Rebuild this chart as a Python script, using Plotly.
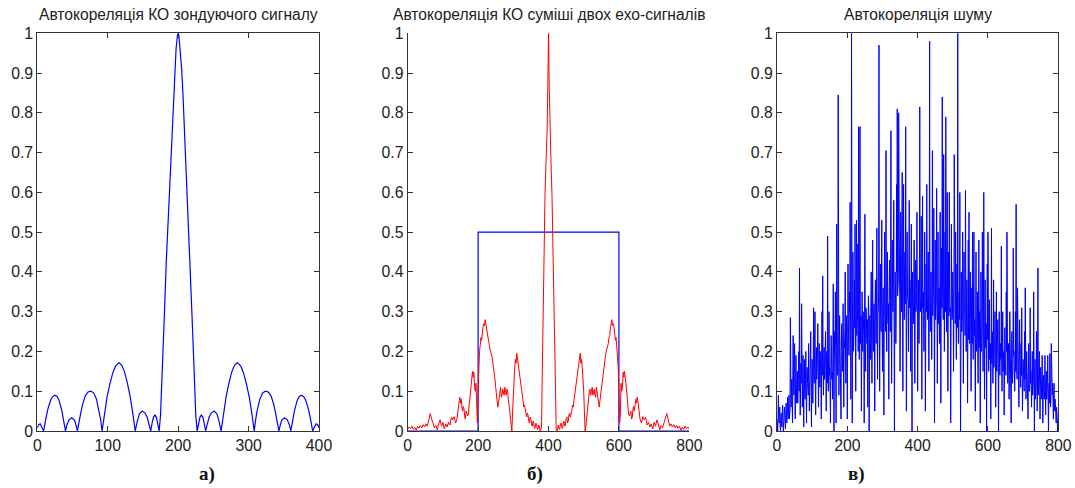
import plotly.graph_objects as go

# ---- panel а: autocorrelation of the probe signal (lags 0..400) ----
probe_lag = [0, 2, 4, 6, 9, 12, 15, 19, 22, 25, 28, 31, 35, 38, 40, 42, 45, 49, 53, 55, 57,
             60, 64, 68, 72, 76, 80, 84, 88, 90, 92, 95, 99, 103, 107, 111, 116, 120, 124, 128,
             132, 136, 139, 142, 145, 149, 153, 156, 159, 161, 163, 165, 167, 169, 171, 173,
             175, 177, 179, 181, 183, 185, 187, 189, 191, 193, 195, 197, 199, 200,
             201, 203, 205, 207, 209, 211, 213, 215, 217, 219, 221, 223, 225, 227,
             229, 231, 233, 235, 237, 239, 241, 244, 247, 251, 255, 258, 261,
             264, 268, 272, 276, 280, 284, 289, 293, 297, 301, 305, 308,
             310, 312, 316, 320, 324, 328, 332, 336, 340, 343, 345, 347, 351, 355, 358, 360,
             362, 365, 369, 372, 375, 378, 381, 385, 388, 391, 394, 396, 398, 400]
probe_acf = [0.008, 0.016, 0.018, 0.012, 0.0, 0.03, 0.055, 0.078, 0.087, 0.09, 0.087, 0.077,
             0.05, 0.02, 0.0, 0.015, 0.028, 0.033, 0.027, 0.015, 0.0,
             0.03, 0.065, 0.088, 0.098, 0.1, 0.096, 0.08, 0.05, 0.028, 0.0,
             0.04, 0.085, 0.118, 0.145, 0.163, 0.172, 0.165, 0.148, 0.12, 0.085, 0.04, 0.0,
             0.025, 0.043, 0.05, 0.045, 0.035, 0.015, 0.0, 0.02, 0.035, 0.04, 0.035, 0.018, 0.0,
             0.04, 0.12, 0.23, 0.32, 0.42, 0.5, 0.59, 0.66, 0.76, 0.84, 0.91, 0.96, 0.995, 1.0,
             0.995, 0.96, 0.91, 0.84, 0.76, 0.66, 0.59, 0.5, 0.42, 0.32, 0.23, 0.12, 0.04, 0.0,
             0.018, 0.035, 0.04, 0.035, 0.02, 0.0, 0.015, 0.035, 0.045, 0.05, 0.043, 0.025, 0.0,
             0.04, 0.085, 0.12, 0.148, 0.165, 0.172, 0.163, 0.145, 0.118, 0.085, 0.04, 0.0,
             0.028, 0.05, 0.08, 0.096, 0.1, 0.098, 0.088, 0.065, 0.03, 0.0,
             0.015, 0.027, 0.033, 0.028, 0.015, 0.0,
             0.02, 0.05, 0.077, 0.087, 0.09, 0.087, 0.078, 0.055, 0.03, 0.0,
             0.012, 0.018, 0.016, 0.008]

# ---- panel б: autocorrelation of the two-echo mixture (lags 0..800) ----
mix_lag = (list(range(0, 140, 4)) + list(range(140, 382, 2))
           + [382, 384, 387, 390, 393, 396, 398, 400, 402, 404, 407, 410, 413, 416, 418]
           + list(range(420, 662, 2)) + list(range(664, 801, 4)))
mix_acf = [
    # lags 0..136, step 4
    0.005, 0.01, 0.006, 0.012, 0.004, 0.009, 0.002, 0.012, 0.007, 0.014,
    0.008, 0.016, 0.01, 0.018, 0.012, 0.03, 0.044, 0.03, 0.02, 0.008,
    0.014, 0.003, 0.018, 0.028, 0.012, 0.022, 0.005, 0.018, 0.01, 0.022,
    0.015, 0.035, 0.028, 0.036, 0.02,
    # lags 140..380, step 2
    0.03, 0.045, 0.06, 0.075, 0.085, 0.07, 0.08, 0.06, 0.05, 0.062,
    0.055, 0.035, 0.03, 0.05, 0.045, 0.038, 0.04, 0.06, 0.07, 0.1,
    0.12, 0.14, 0.15, 0.135, 0.148, 0.11, 0.1, 0.12, 0.04, 0.02,
    0.1, 0.16, 0.2, 0.215, 0.235, 0.228, 0.25, 0.262, 0.27, 0.265,
    0.28, 0.268, 0.26, 0.24, 0.235, 0.22, 0.215, 0.205, 0.2, 0.19,
    0.185, 0.17, 0.16, 0.142, 0.13, 0.11, 0.09, 0.075, 0.06, 0.072,
    0.085, 0.1, 0.11, 0.085, 0.09, 0.105, 0.1, 0.09, 0.11, 0.1,
    0.09, 0.105, 0.1, 0.08, 0.07, 0.05, 0.03, 0.01, 0.0, 0.05,
    0.1, 0.14, 0.16, 0.18, 0.17, 0.195, 0.18, 0.175, 0.16, 0.15,
    0.13, 0.12, 0.1, 0.09, 0.075, 0.06, 0.065, 0.05, 0.04, 0.035,
    0.045, 0.04, 0.025, 0.02, 0.035, 0.03, 0.015, 0.012, 0.025, 0.02,
    0.006, 0.008, 0.02, 0.018, 0.004, 0.005, 0.015, 0.012, 0.0, 0.003,
    0.01,
    # main lobe 382..418
    0.15, 0.3, 0.43, 0.59, 0.68, 0.75, 0.87, 1.0, 0.87, 0.75, 0.68, 0.59, 0.43, 0.3, 0.15,
    # lags 420..660, step 2
    0.01, 0.003, 0.0, 0.012, 0.015, 0.005, 0.004, 0.018, 0.02, 0.008,
    0.006, 0.02, 0.025, 0.012, 0.015, 0.03, 0.035, 0.02, 0.025, 0.04,
    0.045, 0.035, 0.04, 0.05, 0.065, 0.06, 0.075, 0.09, 0.1, 0.12,
    0.13, 0.15, 0.16, 0.175, 0.18, 0.195, 0.17, 0.18, 0.16, 0.14,
    0.1, 0.05, 0.0, 0.01, 0.03, 0.05, 0.07, 0.08, 0.1, 0.105,
    0.09, 0.1, 0.11, 0.09, 0.1, 0.105, 0.09, 0.085, 0.11, 0.1,
    0.085, 0.072, 0.06, 0.075, 0.09, 0.11, 0.13, 0.142, 0.16, 0.17,
    0.185, 0.19, 0.2, 0.205, 0.215, 0.22, 0.235, 0.24, 0.26, 0.268,
    0.28, 0.265, 0.27, 0.262, 0.25, 0.228, 0.235, 0.215, 0.2, 0.16,
    0.1, 0.02, 0.04, 0.12, 0.1, 0.11, 0.148, 0.135, 0.15, 0.14,
    0.12, 0.1, 0.07, 0.06, 0.04, 0.038, 0.045, 0.05, 0.03, 0.035,
    0.055, 0.062, 0.05, 0.06, 0.08, 0.07, 0.085, 0.075, 0.06, 0.045,
    0.03,
    # lags 664..800, step 4
    0.02, 0.036, 0.028, 0.035, 0.015, 0.022, 0.01, 0.018, 0.005, 0.022,
    0.012, 0.028, 0.018, 0.003, 0.014, 0.008, 0.02, 0.03, 0.044, 0.03,
    0.012, 0.018, 0.01, 0.016, 0.008, 0.014, 0.007, 0.012, 0.002, 0.009,
    0.004, 0.012, 0.006, 0.01, 0.005,
]

# gating window drawn over the mixture correlation
gate_lag = [0, 200, 200, 600, 600, 800]
gate_level = [0, 0, 0.5, 0.5, 0, 0]

# ---- panel в: autocorrelation of noise (lags 0..800, one value per lag) ----
noise_lag = list(range(0, 801))
noise_acf = [
    0.03, 0.02, 0.0, 0.04, 0.09, 0.03, 0.02, 0.05, 0.06, 0.01, 0.0, 0.03, 0.045, 0.02, 0.01, 0.04, 0.065, 0.03, 0.0, 0.02,
    0.03, 0.06, 0.05, 0.02, 0.005, 0.04, 0.07, 0.03, 0.02, 0.05, 0.085, 0.04, 0.03, 0.06, 0.09, 0.03, 0.04, 0.05, 0.285, 0.12,
    0.06, 0.1, 0.13, 0.08, 0.02, 0.14, 0.24, 0.12, 0.09, 0.16, 0.22, 0.09, 0.03, 0.13, 0.19, 0.11, 0.07, 0.12, 0.15, 0.07,
    0.1, 0.15, 0.2, 0.1, 0.41, 0.13, 0.04, 0.09, 0.17, 0.12, 0.32, 0.14, 0.06, 0.1, 0.19, 0.08, 0.01, 0.12, 0.18, 0.09,
    0.08, 0.13, 0.2, 0.1, 0.02, 0.15, 0.16, 0.12, 0.11, 0.09, 0.22, 0.14, 0.05, 0.11, 0.14, 0.17, 0.25, 0.1, 0.01, 0.13,
    0.18, 0.12, 0.07, 0.16, 0.31, 0.14, 0.12, 0.18, 0.3, 0.11, 0.04, 0.15, 0.21, 0.13, 0.15, 0.19, 0.27, 0.12, 0.06, 0.16,
    0.22, 0.15, 0.11, 0.2, 0.18, 0.12, 0.03, 0.17, 0.3, 0.14, 0.39, 0.19, 0.09, 0.16, 0.21, 0.13, 0.14, 0.2, 0.25, 0.15,
    0.05, 0.18, 0.2, 0.12, 0.49, 0.17, 0.1, 0.21, 0.3, 0.14, 0.16, 0.1, 0.02, 0.16, 0.24, 0.19, 0.13, 0.15, 0.08, 0.2,
    0.37, 0.18, 0.0, 0.15, 0.25, 0.22, 0.35, 0.12, 0.02, 0.2, 0.52, 0.25, 0.14, 0.17, 0.845, 0.21, 0.09, 0.16, 0.29, 0.23,
    0.18, 0.14, 0.03, 0.2, 0.27, 0.24, 0.15, 0.19, 0.32, 0.15, 0.06, 0.22, 0.21, 0.26, 0.4, 0.18, 0.12, 0.23, 0.29, 0.2,
    0.03, 0.24, 0.42, 0.28, 0.2, 0.19, 0.35, 0.3, 0.575, 0.22, 0.08, 0.27, 1.0, 0.25, 0.02, 0.32, 0.45, 0.2, 0.22, 0.29,
    0.38, 0.26, 0.52, 0.21, 0.1, 0.3, 0.53, 0.24, 0.3, 0.28, 0.47, 0.2, 0.765, 0.31, 0.18, 0.26, 0.765, 0.22, 0.25, 0.29,
    0.05, 0.26, 0.35, 0.22, 0.2, 0.3, 0.28, 0.24, 0.02, 0.27, 0.545, 0.2, 0.15, 0.31, 0.3, 0.25, 0.22, 0.28, 0.06, 0.23,
    0.34, 0.3, 0.0, 0.26, 0.29, 0.22, 0.18, 0.32, 0.4, 0.25, 0.12, 0.29, 0.48, 0.24, 0.2, 0.3, 0.32, 0.27, 0.05, 0.33,
    0.38, 0.28, 0.22, 0.32, 0.51, 0.25, 0.13, 0.3, 0.3, 0.35, 0.97, 0.27, 0.1, 0.33, 0.42, 0.29, 0.25, 0.36, 0.53, 0.26,
    0.15, 0.31, 0.36, 0.28, 0.04, 0.34, 0.5, 0.3, 0.68, 0.25, 0.705, 0.33, 0.2, 0.37, 0.45, 0.29, 0.27, 0.32, 0.08, 0.35,
    0.43, 0.3, 0.25, 0.36, 0.755, 0.28, 0.12, 0.34, 0.48, 0.31, 0.3, 0.38, 0.58, 0.27, 0.0, 0.33, 0.4, 0.36, 0.22, 0.3,
    0.62, 0.4, 0.81, 0.34, 0.35, 0.38, 0.8, 0.42, 0.64, 0.32, 0.15, 0.37, 0.55, 0.35, 0.3, 0.4, 0.65, 0.33, 0.1, 0.38,
    0.62, 0.35, 0.28, 0.4, 0.45, 0.32, 0.765, 0.37, 0.05, 0.3, 0.5, 0.36, 0.33, 0.33, 0.2, 0.39, 0.58, 0.31, 0.38, 0.35,
    0.15, 0.38, 0.52, 0.3, 0.0, 0.34, 0.4, 0.29, 0.27, 0.36, 0.48, 0.32, 0.12, 0.37, 0.43, 0.3, 0.31, 0.35, 0.55, 0.33,
    0.1, 0.32, 0.38, 0.28, 0.22, 0.36, 0.815, 0.3, 0.3, 0.34, 0.54, 0.27, 0.08, 0.38, 0.59, 0.31, 0.35, 0.29, 0.2, 0.35,
    0.5, 0.33, 0.05, 0.37, 0.42, 0.3, 0.62, 0.34, 0.28, 0.39, 0.45, 0.28, 0.15, 0.35, 0.98, 0.32, 0.25, 0.36, 0.4, 0.3,
    0.18, 0.34, 0.705, 0.29, 0.33, 0.37, 0.56, 0.31, 0.02, 0.35, 0.48, 0.28, 0.3, 0.33, 0.61, 0.38, 0.12, 0.3, 0.5, 0.27,
    0.35, 0.36, 0.22, 0.32, 0.55, 0.29, 0.07, 0.35, 0.46, 0.31, 0.84, 0.37, 0.3, 0.28, 0.695, 0.33, 0.2, 0.36, 0.5, 0.3,
    0.79, 0.3, 0.25, 0.34, 0.6, 0.27, 0.1, 0.32, 0.45, 0.29, 0.6, 0.36, 0.3, 0.31, 0.02, 0.26, 0.52, 0.33, 0.28, 0.3,
    0.4, 0.35, 0.15, 0.28, 0.695, 0.32, 0.33, 0.27, 0.5, 0.31, 0.18, 0.34, 0.42, 0.26, 1.0, 0.3, 0.22, 0.33, 0.35, 0.28,
    0.6, 0.27, 0.0, 0.31, 0.4, 0.25, 0.25, 0.29, 0.5, 0.33, 0.12, 0.26, 0.45, 0.3, 0.3, 0.24, 0.605, 0.28, 0.2, 0.32,
    0.38, 0.25, 0.07, 0.29, 0.48, 0.23, 0.55, 0.27, 0.22, 0.3, 0.4, 0.24, 0.1, 0.28, 0.36, 0.22, 0.5, 0.26, 0.18, 0.29,
    0.5, 0.24, 0.28, 0.2, 0.05, 0.27, 0.45, 0.22, 0.2, 0.26, 0.35, 0.19, 0.12, 0.25, 0.48, 0.21, 0.3, 0.28, 0.02, 0.23,
    0.4, 0.2, 0.22, 0.26, 0.5, 0.22, 0.15, 0.25, 0.6, 0.18, 0.08, 0.24, 0.38, 0.21, 0.25, 0.27, 0.0, 0.2, 0.42, 0.23,
    0.5, 0.21, 0.15, 0.24, 0.33, 0.18, 0.2, 0.22, 0.03, 0.2, 0.51, 0.17, 0.25, 0.23, 0.12, 0.19, 0.38, 0.16, 0.2, 0.21,
    0.3, 0.18, 0.06, 0.2, 0.35, 0.15, 0.18, 0.22, 0.28, 0.17, 0.0, 0.19, 0.3, 0.16, 0.14, 0.2, 0.22, 0.18, 0.465, 0.15,
    0.1, 0.19, 0.3, 0.15, 0.18, 0.2, 0.04, 0.16, 0.26, 0.18, 0.15, 0.14, 0.35, 0.2, 0.5, 0.17, 0.12, 0.15, 0.22, 0.19,
    0.08, 0.13, 0.3, 0.17, 0.18, 0.15, 0.02, 0.18, 0.25, 0.14, 0.12, 0.16, 0.46, 0.19, 0.2, 0.13, 0.1, 0.17, 0.3, 0.15,
    0.57, 0.16, 0.14, 0.13, 0.36, 0.18, 0.2, 0.12, 0.06, 0.15, 0.28, 0.17, 0.15, 0.11, 0.22, 0.14, 0.31, 0.16, 0.05, 0.12,
    0.18, 0.15, 0.12, 0.1, 0.25, 0.13, 0.36, 0.16, 0.08, 0.11, 0.2, 0.14, 0.14, 0.12, 0.03, 0.15, 0.22, 0.1, 0.1, 0.13,
    0.31, 0.12, 0.15, 0.1, 0.06, 0.14, 0.2, 0.09, 0.12, 0.13, 0.35, 0.11, 0.0, 0.15, 0.18, 0.08, 0.1, 0.12, 0.25, 0.1,
    0.05, 0.13, 0.41, 0.09, 0.12, 0.14, 0.2, 0.11, 0.03, 0.1, 0.16, 0.12, 0.09, 0.08, 0.19, 0.11, 0.02, 0.09, 0.14, 0.1,
    0.08, 0.1, 0.19, 0.07, 0.04, 0.11, 0.15, 0.08, 0.1, 0.12, 0.19, 0.09, 0.0, 0.1, 0.12, 0.07, 0.195, 0.11, 0.06, 0.08,
    0.22, 0.12, 0.1, 0.09, 0.12, 0.07, 0.03, 0.1, 0.12, 0.06, 0.05, 0.08, 0.07, 0.04, 0.02, 0.06, 0.05, 0.03, 0.0, 0.02,
    0.03,
]

y_ticks = [0, 0.1, 0.2, 0.3, 0.4, 0.5, 0.6, 0.7, 0.8, 0.9, 1]
titles = ["Автокореляція КО зондуючого сигналу",
          "Автокореляція КО суміші двох ехо-сигналів",
          "Автокореляція шуму"]
panel_marks = ["а)", "б)", "в)"]

W, H = 1075, 488
BLUE, RED, AXC = "#0000ff", "#ff0000", "#333333"
TICK_FONT = dict(family="Liberation Sans, Arial, sans-serif", size=15.8, color="#222222")

# axes boxes in pixels: (left, right)
x_px = [(37.3, 319.0), (407.7, 689.3), (777.0, 1058.3)]
y_top, y_bot = 33.3, 431.0
x_ranges = [[0, 400], [0, 800], [0, 800]]
x_dticks = [100, 200, 200]
mark_x_px = [207, 534.5, 856.5]

fig = go.Figure()
fig.add_trace(go.Scatter(x=probe_lag, y=probe_acf, mode="lines",
                         line=dict(color=BLUE, width=1.2), xaxis="x", yaxis="y"))
fig.add_trace(go.Scatter(x=gate_lag, y=gate_level, mode="lines",
                         line=dict(color=BLUE, width=1.2), xaxis="x2", yaxis="y2"))
fig.add_trace(go.Scatter(x=mix_lag, y=mix_acf, mode="lines",
                         line=dict(color=RED, width=1), xaxis="x2", yaxis="y2"))
fig.add_trace(go.Scatter(x=noise_lag, y=noise_acf, mode="lines",
                         line=dict(color=BLUE, width=1), xaxis="x3", yaxis="y3"))

layout = dict(width=W, height=H, autosize=False,
              margin=dict(l=0, r=0, t=0, b=0, pad=0, autoexpand=False),
              paper_bgcolor="white", plot_bgcolor="white", showlegend=False)
ydom = [(H - y_bot) / H, (H - y_top) / H]
annotations = []
for i in range(3):
    sfx = "" if i == 0 else str(i + 1)
    box = "ticks" if i != 1 else False
    layout["xaxis" + sfx] = dict(
        domain=[x_px[i][0] / W, x_px[i][1] / W], range=x_ranges[i], anchor="y" + sfx,
        automargin=False,
        tickmode="linear", tick0=0, dtick=x_dticks[i], ticks="inside", ticklen=5,
        tickcolor=AXC, showline=True, linecolor=AXC, linewidth=1, mirror=box,
        showgrid=False, zeroline=False, tickfont=TICK_FONT)
    layout["yaxis" + sfx] = dict(
        domain=ydom, range=[0, 1], anchor="x" + sfx, automargin=False,
        tickmode="array", tickvals=y_ticks, ticktext=[f"{v:g}" for v in y_ticks],
        ticks="inside", ticklen=5, tickcolor=AXC, showline=True, linecolor=AXC,
        linewidth=1, mirror=box, showgrid=False, zeroline=False, tickfont=TICK_FONT)
    cx = (x_px[i][0] + x_px[i][1]) / 2 / W
    annotations.append(dict(text=titles[i], x=cx, y=(H - 15) / H, xref="paper", yref="paper",
                            xanchor="center", yanchor="middle", showarrow=False,
                            font=dict(family="Liberation Sans, Arial, sans-serif", size=15.6,
                                      color="#222222")))
    annotations.append(dict(text=f"<b>{panel_marks[i]}</b>", x=mark_x_px[i] / W,
                            y=(H - 474) / H, xref="paper", yref="paper",
                            xanchor="center", yanchor="middle", showarrow=False,
                            font=dict(family="Liberation Serif, Times New Roman, serif",
                                      size=19, color="#111111")))
layout["annotations"] = annotations
fig.update_layout(**layout)

# the page body keeps the browser's default 8px margin otherwise
fig.write_html("out.html",
               post_script="document.body.style.margin='0';"
                           "document.body.style.overflow='hidden';")
